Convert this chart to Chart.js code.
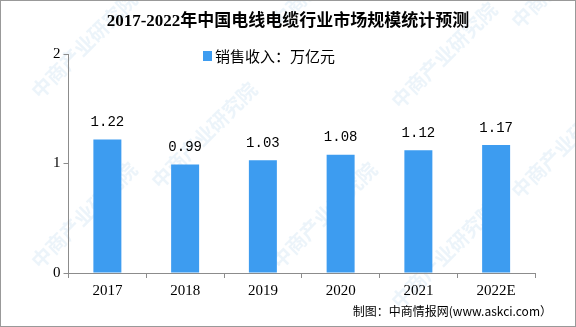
<!DOCTYPE html>
<html>
<head>
<meta charset="utf-8">
<script src="https://cdn.jsdelivr.net/npm/chart.js@4"></script>
<style>
  html, body { margin: 0; padding: 0; background: #fff; }
  #wrap { width: 576px; height: 327px; position: relative; }
</style>
</head>
<body>
<div id="wrap"><canvas id="chart1"></canvas></div>
<script>
// chart data
var years = ["2017", "2018", "2019", "2020", "2021", "2022E"];
var sales = [1.22, 0.99, 1.03, 1.08, 1.12, 1.17];
var yTicks = [0, 1, 2];
var seriesName = "销售收入：万亿元";
var titleText = "2017-2022年中国电线电缆行业市场规模统计预测";
var sourceText = "制图：中商情报网(www.askci.com）";

var barColor = "#3d9cf0";
var axisColor = "#8c8c8c";
var cjkSerif = "'Liberation Serif', 'Noto Sans CJK SC', serif";

// extra drawing: title, legend, value labels, footer, frame, watermark
var decor = {
  id: "decor",
  beforeDraw: function(chart) {
    var ctx = chart.ctx;
    ctx.save();
    ctx.fillStyle = "rgba(170,205,232,0.22)";
    ctx.font = "bold 20px 'Noto Sans CJK SC'";
    var spots = [[40,100],[280,30],[520,30],[160,190],[400,110],[40,270],[280,270],[520,200],[400,310]];
    spots.forEach(function(p) {
      ctx.save();
      ctx.translate(p[0], p[1]);
      ctx.rotate(-Math.PI / 4);
      ctx.fillText("中商产业研究院", 0, 0);
      ctx.restore();
    });
    ctx.restore();
  },
  afterDraw: function(chart) {
    var ctx = chart.ctx;
    ctx.save();
    // title
    ctx.fillStyle = "#000";
    ctx.textAlign = "center";
    ctx.textBaseline = "middle";
    ctx.font = "bold 17px " + cjkSerif;
    ctx.fillText(titleText, 288, 22);

    // legend
    ctx.font = "15px 'Noto Sans CJK SC'";
    ctx.textAlign = "left";
    ctx.fillStyle = barColor;
    ctx.fillRect(203, 51, 9, 10);
    ctx.fillStyle = "#000";
    ctx.fillText(seriesName, 215, 56);

    // value labels
    var meta = chart.getDatasetMeta(0);
    ctx.font = "14px 'Liberation Mono', monospace";
    ctx.textAlign = "center";
    ctx.textBaseline = "bottom";
    meta.data.forEach(function(bar, i) {
      ctx.fillText(sales[i].toFixed(2), bar.x, bar.y - 10);
    });

    // footer
    ctx.textAlign = "right";
    ctx.textBaseline = "middle";
    ctx.font = "12px 'Noto Sans CJK SC'";
    ctx.fillText(sourceText, 552, 311);

    // frame
    ctx.strokeStyle = "#999";
    ctx.lineWidth = 1;
    ctx.strokeRect(0.5, 0.5, 575, 326);
    ctx.restore();
  }
};

new Chart(document.getElementById("chart1"), {
  type: "bar",
  data: {
    labels: years,
    datasets: [{
      label: seriesName,
      data: sales,
      backgroundColor: barColor,
      borderWidth: 0,
      barPercentage: 0.36,
      categoryPercentage: 1.0
    }]
  },
  options: {
    responsive: true,
    maintainAspectRatio: false,
    animation: false,
    layout: { padding: { top: 54, right: 41, bottom: 23, left: 50 } },
    plugins: {
      legend: { display: false },
      title: { display: false },
      tooltip: { enabled: false }
    },
    scales: {
      x: {
        grid: { display: true, drawOnChartArea: false, offset: true, tickLength: 5, color: axisColor },
        border: { color: axisColor },
        ticks: { color: "#000", font: { family: "'Liberation Serif', serif", size: 15 }, padding: 4 }
      },
      y: {
        min: 0, max: 2,
        afterBuildTicks: function(axis) { axis.ticks = yTicks.map(function(v) { return { value: v }; }); },
        grid: { display: true, drawOnChartArea: false, tickLength: 5, color: axisColor },
        border: { color: axisColor },
        ticks: { color: "#000", font: { family: "'Liberation Serif', serif", size: 15 }, padding: 3 }
      }
    }
  },
  plugins: [decor]
});
</script>
</body>
</html>
